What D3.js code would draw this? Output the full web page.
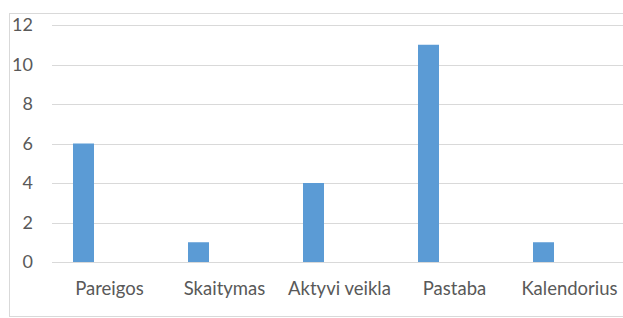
<!DOCTYPE html>
<html>
<head>
<meta charset="utf-8">
<script src="https://cdn.jsdelivr.net/npm/d3@7"></script>
<style>
  body { margin: 0; background: #fff; }
  svg { display: block; }
</style>
</head>
<body>
<script>
"use strict";

const width = 623;
const height = 318;
const categories = ["Pareigos", "Skaitymas", "Aktyvi veikla", "Pastaba", "Kalendorius"];
const values = [6, 1, 4, 11, 1];
const yTicks = [0, 2, 4, 6, 8, 10, 12];

const svg = d3
  .select("body")
  .append("svg")
  .attr("width", width)
  .attr("height", height);

// chart frame (runs past the right and bottom edges)
svg
  .append("rect")
  .attr("x", 9.5)
  .attr("y", 13.5)
  .attr("width", 640)
  .attr("height", 303)
  .attr("fill", "none")
  .attr("stroke", "#d9d9d9");

const x = d3.scaleBand().domain(categories).range([52, 627]);
const y = d3.scaleLinear().domain([0, 12]).range([262, 25]);

// gridlines
svg
  .selectAll("line.grid")
  .data(yTicks)
  .enter()
  .append("line")
  .attr("class", "grid")
  .attr("x1", 52)
  .attr("x2", 627)
  .attr("y1", (d) => Math.round(y(d)) + 0.5)
  .attr("y2", (d) => Math.round(y(d)) + 0.5)
  .attr("stroke", "#d9d9d9")
  .attr("stroke-width", 1);

// y labels
svg
  .selectAll("text.ylab")
  .data(yTicks)
  .enter()
  .append("text")
  .attr("class", "ylab")
  .text((d) => d)
  .attr("x", 33)
  .attr("y", (d) => y(d) + 6)
  .attr("text-anchor", "end")
  .attr("font-family", "Lato, sans-serif")
  .attr("font-size", 18)
  .attr("fill", "#595959");

// bars sit left of category centre (empty second series)
const barW = 21;
svg
  .selectAll("rect.bar")
  .data(values)
  .enter()
  .append("rect")
  .attr("class", "bar")
  .attr("x", (d, i) => x(categories[i]) + x.bandwidth() / 2 - 36.5)
  .attr("y", (d) => y(d))
  .attr("width", barW)
  .attr("height", (d) => y(0) - y(d))
  .attr("fill", "#5b9bd5");

// category labels
svg
  .selectAll("text.xlab")
  .data(categories)
  .enter()
  .append("text")
  .attr("class", "xlab")
  .text((d) => d)
  .attr("x", (d) => x(d) + x.bandwidth() / 2)
  .attr("y", 295)
  .attr("text-anchor", "middle")
  .attr("font-family", "Lato, sans-serif")
  .attr("font-size", 18.5)
  .attr("fill", "#595959");
</script>
</body>
</html>
